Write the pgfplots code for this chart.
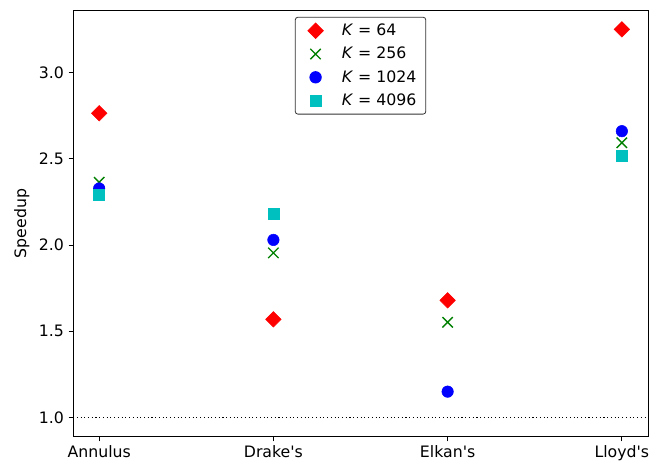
\documentclass[border=0pt]{standalone}
\usepackage{fontspec}
\setmainfont{DejaVu Sans}
\usepackage{pgfplots}
\pgfplotsset{compat=1.18}
\definecolor{mplgreen}{rgb}{0,0.5,0}
\definecolor{mplcyan}{rgb}{0,0.75,0.75}
\newcommand{\fs}{\fontsize{11.8}{14}\selectfont}
\pgfplotsset{mylegimg/.style={legend image code/.code={%
  \node[draw=none, fill=none, inner sep=0pt, minimum width=0.98cm, minimum height=1pt, anchor=west] at (0cm,0cm) {};
  \draw[##1, only marks] plot coordinates {(0.37cm,0cm)};}}}
\begin{document}
\begin{tikzpicture}
\begin{axis}[
  scale only axis, width=431pt, height=320pt,
  xmin=-0.15, xmax=3.15, ymin=0.888, ymax=3.361,
  xtick={0,1,2,3}, xticklabels={Annulus,Drake\textquotesingle s,Elkan\textquotesingle s,Lloyd\textquotesingle s},
  ytick={1.0,1.5,2.0,2.5,3.0},
  yticklabel style={/pgf/number format/.cd,fixed,fixed zerofill,precision=1},
  /pgf/number format/assume math mode=true,
  tick align=outside, tick pos=left, major tick length=3.3pt,
  tick style={black, line width=0.6pt},
  axis line style={line width=0.6pt},
  font=\fs,
  ylabel={Speedup},
  ylabel style={at={(rel axis cs:0,0.5)}, anchor=center, yshift=38.5pt},
  legend style={at={(0.5,0.984)}, anchor=north, draw=black!80, rounded corners=2pt,
    line width=0.6pt, font=\fs, row sep=3.2pt,
    inner xsep=5pt, inner ysep=3pt, cells={anchor=west}},
  legend cell align=left,
]
\addplot[black, dotted, line width=0.8pt, forget plot] coordinates {(-0.15,1.0) (3.15,1.0)};
\addplot[only marks, mylegimg, mark=square*, mark size=4.1pt, mark options={rotate=45, fill=red, draw=red}]
  coordinates {(0,2.763) (1,1.569) (2,1.679) (3,3.249)};
\addlegendentry{\textit{K} = 64}
\addplot[only marks, mylegimg, mark=x, mark size=5.5pt, mark options={draw=mplgreen, line width=1.0pt}]
  coordinates {(0,2.363) (1,1.954) (2,1.552) (3,2.592)};
\addlegendentry{\textit{K} = 256}
\addplot[only marks, mylegimg, mark=*, mark size=4.3pt, mark options={fill=blue, draw=blue}]
  coordinates {(0,2.327) (1,2.029) (2,1.150) (3,2.659)};
\addlegendentry{\textit{K} = 1024}
\addplot[only marks, mylegimg, mark=square*, mark size=4.1pt, mark options={fill=mplcyan, draw=mplcyan}]
  coordinates {(0,2.289) (1,2.179) (3,2.517)};
\addlegendentry{\textit{K} = 4096}
\end{axis}
\pgfresetboundingbox
\path ([xshift=-54.75pt,yshift=-20.25pt]current axis.south west) rectangle ([xshift=10.5pt,yshift=7.5pt]current axis.north east);
\end{tikzpicture}
\end{document}
